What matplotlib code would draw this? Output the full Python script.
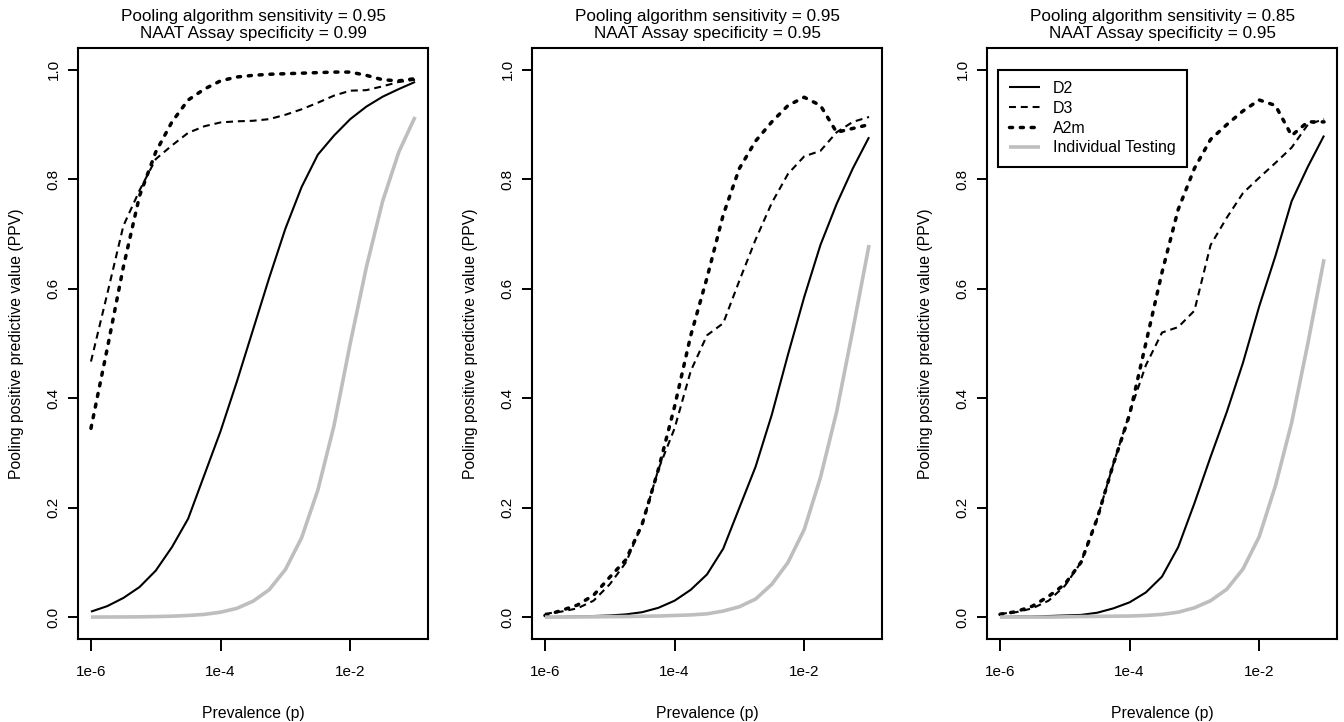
import numpy as np
import matplotlib
matplotlib.use("Agg")
import matplotlib.pyplot as plt

plt.rcParams['font.family'] = ['Liberation Sans', 'DejaVu Sans']
plt.rcParams['lines.scale_dashes'] = False

# log10 prevalence grid
log_p = [-6, -5.75, -5.5, -5.25, -5, -4.75, -4.5, -4.25, -4, -3.75, -3.5,
         -3.25, -3, -2.75, -2.5, -2.25, -2, -1.75, -1.5, -1.25, -1]

titles = ["Pooling algorithm sensitivity = 0.95\nNAAT Assay specificity = 0.99",
          "Pooling algorithm sensitivity = 0.95\nNAAT Assay specificity = 0.95",
          "Pooling algorithm sensitivity = 0.85\nNAAT Assay specificity = 0.95"]

series_names = ["D2", "D3", "A2m", "Individual Testing"]

# Panel 1
p1_d2 = [0.010, 0.020, 0.035, 0.055, 0.085, 0.128, 0.180, 0.260, 0.340, 0.430, 0.525,
         0.620, 0.710, 0.786, 0.845, 0.880, 0.910, 0.933, 0.951, 0.965, 0.978]
p1_d3 = [0.467, 0.590, 0.715, 0.780, 0.837, 0.862, 0.885, 0.897, 0.904, 0.906, 0.907,
         0.910, 0.918, 0.928, 0.940, 0.953, 0.962, 0.963, 0.970, 0.978, 0.982]
p1_a2m = [0.345, 0.490, 0.640, 0.770, 0.850, 0.905, 0.945, 0.965, 0.980, 0.987, 0.990,
          0.992, 0.993, 0.994, 0.995, 0.996, 0.996, 0.990, 0.982, 0.980, 0.984]
p1_ind = [0.0001, 0.0002, 0.0003, 0.0005, 0.001, 0.0017, 0.003, 0.005, 0.009, 0.016, 0.029,
          0.050, 0.087, 0.145, 0.232, 0.350, 0.500, 0.640, 0.760, 0.850, 0.914]

# Panel 2
p2_d2 = [0.0003, 0.0005, 0.001, 0.002, 0.003, 0.005, 0.009, 0.017, 0.030, 0.050, 0.078,
         0.125, 0.200, 0.275, 0.370, 0.480, 0.585, 0.680, 0.755, 0.820, 0.877]
p2_d3 = [0.006, 0.010, 0.016, 0.030, 0.060, 0.100, 0.170, 0.270, 0.345, 0.450, 0.515,
         0.537, 0.615, 0.690, 0.757, 0.810, 0.842, 0.852, 0.886, 0.905, 0.914]
p2_a2m = [0.003, 0.012, 0.022, 0.040, 0.073, 0.105, 0.170, 0.270, 0.385, 0.515, 0.620,
          0.735, 0.820, 0.870, 0.905, 0.935, 0.950, 0.935, 0.886, 0.893, 0.900]
p2_ind = [0.0, 0.0, 0.0003, 0.0005, 0.0008, 0.001, 0.0015, 0.002, 0.003, 0.004, 0.006,
          0.011, 0.019, 0.033, 0.060, 0.100, 0.160, 0.255, 0.375, 0.525, 0.680]

# Panel 3
p3_d2 = [0.0, 0.001, 0.001, 0.002, 0.003, 0.004, 0.008, 0.016, 0.027, 0.045, 0.074,
         0.128, 0.208, 0.293, 0.375, 0.465, 0.568, 0.660, 0.760, 0.823, 0.880]
p3_d3 = [0.006, 0.009, 0.016, 0.030, 0.057, 0.100, 0.180, 0.280, 0.373, 0.460, 0.520,
         0.530, 0.560, 0.680, 0.730, 0.775, 0.803, 0.830, 0.858, 0.900, 0.910]
p3_a2m = [0.005, 0.010, 0.020, 0.038, 0.060, 0.100, 0.180, 0.280, 0.370, 0.500, 0.630,
          0.745, 0.820, 0.873, 0.900, 0.925, 0.945, 0.935, 0.880, 0.905, 0.905]
p3_ind = [0.0, 0.0, 0.0, 0.0, 0.0005, 0.001, 0.0013, 0.0017, 0.002, 0.003, 0.005,
          0.009, 0.017, 0.030, 0.051, 0.088, 0.147, 0.240, 0.355, 0.500, 0.654]

panels = [(p1_d2, p1_d3, p1_a2m, p1_ind),
          (p2_d2, p2_d3, p2_a2m, p2_ind),
          (p3_d2, p3_d3, p3_a2m, p3_ind)]

x_ticks = [1e-6, 1e-4, 1e-2]
x_ticklabels = ["1e-6", "1e-4", "1e-2"]
y_ticks = [0.0, 0.2, 0.4, 0.6, 0.8, 1.0]
y_ticklabels = ["0.0", "0.2", "0.4", "0.6", "0.8", "1.0"]

fig = plt.figure(figsize=(13.44, 7.22), dpi=100)
W, H = 1344, 722
lefts = [78, 532, 987]
ax_w = 350
ax_top, ax_bot = 48, 639

fs_title = 12.3
fs_lab = 11.3
fs_tick = 11.0
fs_leg = 11.5
p = 10.0 ** np.array(log_p)

styles = [
    dict(color='black', lw=1.5, ls='-'),
    dict(color='black', lw=1.5, ls=(0, (5.0, 3.5))),
    dict(color='black', lw=2.5, ls=(0, (2.2, 5.6)), dash_capstyle='round'),
    dict(color='#BEBEBE', lw=2.6, ls='-'),
]

for i, (left, data) in enumerate(zip(lefts, panels)):
    ax = fig.add_axes([left / W, (H - ax_bot) / H, ax_w / W, (ax_bot - ax_top) / H])
    handles = []
    for name, ys, st in zip(series_names, data, styles):
        h, = ax.plot(p, ys, label=name, solid_capstyle='butt', **st)
        handles.append(h)
    ax.set_xscale('log')
    ax.set_xlim(10 ** -6.2, 10 ** -0.8)
    ax.set_ylim(-0.04, 1.04)
    ax.minorticks_off()
    ax.set_xticks(x_ticks)
    ax.set_xticklabels(x_ticklabels, fontsize=fs_tick)
    ax.set_yticks(y_ticks)
    ax.set_yticklabels(y_ticklabels, fontsize=fs_tick, rotation=90, va='center')
    ax.tick_params(axis='x', direction='out', length=8.5, width=1.4, pad=10)
    ax.tick_params(axis='y', direction='out', length=7.5, width=1.4, pad=5)
    for s in ax.spines.values():
        s.set_linewidth(1.5)
    ax.set_xlabel("Prevalence (p)", fontsize=fs_lab, labelpad=19.5)
    ax.set_ylabel("Pooling positive predictive value (PPV)", fontsize=fs_lab, labelpad=16)
    ax.set_title(titles[i], fontsize=fs_title, pad=7.5, linespacing=1.12)
    if i == 2:
        leg = ax.legend(handles=handles, loc='upper left',
                        bbox_to_anchor=(0.0315, 0.963), fontsize=fs_leg,
                        frameon=True, fancybox=False, framealpha=1,
                        edgecolor='black', handlelength=1.9, handletextpad=0.85,
                        labelspacing=0.3, borderpad=0.7, borderaxespad=0)
        leg.get_frame().set_linewidth(1.5)

fig.savefig("out.png", dpi=100)
